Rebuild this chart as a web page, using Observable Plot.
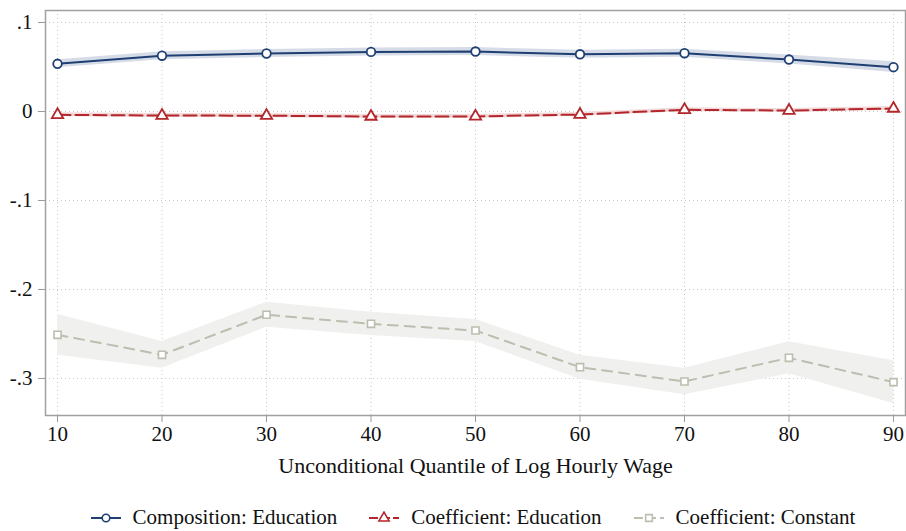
<!DOCTYPE html>
<html>
<head>
<meta charset="utf-8">
<script src="https://cdn.jsdelivr.net/npm/d3@7"></script>
<script src="https://cdn.jsdelivr.net/npm/@observablehq/plot@0.6"></script>
<style>
  body { margin: 0; background: #fff; font-family: "Times New Roman", "Liberation Serif", Tinos, "DejaVu Serif", serif; }
  #legend { display: flex; justify-content: center; gap: 32px; font-size: 21px; color: #111; margin-top: 5px; padding-left: 40px; font-family: "Times New Roman", "Liberation Serif", Tinos, "DejaVu Serif", serif; }
  #legend .item { display: flex; align-items: center; gap: 12px; }
  svg text { font-family: "Times New Roman", "Liberation Serif", Tinos, "DejaVu Serif", serif; }
</style>
</head>
<body>
<div id="chart"></div>
<div id="legend"></div>
<script>
const quantiles = [10, 20, 30, 40, 50, 60, 70, 80, 90];

const compEdu   = [0.0536, 0.0627, 0.0652, 0.0670, 0.0674, 0.0643, 0.0655, 0.0584, 0.0498];
const compEduLo = [0.0491, 0.0582, 0.0607, 0.0625, 0.0629, 0.0598, 0.0610, 0.0534, 0.0438];
const compEduHi = [0.0581, 0.0672, 0.0697, 0.0715, 0.0719, 0.0688, 0.0700, 0.0634, 0.0558];

const coefEdu   = [-0.0037, -0.0045, -0.0047, -0.0056, -0.0055, -0.0034, 0.0019, 0.0011, 0.0034];
const coefEduLo = [-0.0059, -0.0067, -0.0069, -0.0078, -0.0077, -0.0056, -0.0003, -0.0011, 0.0012];
const coefEduHi = [-0.0015, -0.0023, -0.0025, -0.0034, -0.0033, -0.0012, 0.0041, 0.0033, 0.0056];

const coefConst   = [-0.2509, -0.2734, -0.2284, -0.2386, -0.2461, -0.2873, -0.3034, -0.2768, -0.3041];
const coefConstLo = [-0.2739, -0.2884, -0.2424, -0.2516, -0.2585, -0.3008, -0.3184, -0.2948, -0.3281];
const coefConstHi = [-0.2279, -0.2584, -0.2144, -0.2256, -0.2337, -0.2738, -0.2884, -0.2588, -0.2801];

const yTicks = [-0.3, -0.2, -0.1, 0, 0.1];
const xTicks = [10, 20, 30, 40, 50, 60, 70, 80, 90];
const seriesNames = ["Composition: Education", "Coefficient: Education", "Coefficient: Constant"];

const navy = "#1f3f73", navyBand = "#d6dce7";
const red = "#b3262b", redBand = "#f3d9d9";
const gray = "#bdbdb0", grayBand = "#f0f0ee";

const rows = (v, lo, hi) => quantiles.map((q, i) => ({q, v: v[i], lo: lo[i], hi: hi[i]}));
const A = rows(compEdu, compEduLo, compEduHi);
const B = rows(coefEdu, coefEduLo, coefEduHi);
const C = rows(coefConst, coefConstLo, coefConstHi);

const fmtY = d => d === 0 ? "0" : (d < 0 ? "-" : "") + String(Math.abs(d)).replace(/^0/, "");
const serif = "'Times New Roman', 'Liberation Serif', Tinos, 'DejaVu Serif', serif";

const chart = Plot.plot({
  width: 906,
  height: 500,
  marginLeft: 45,
  marginRight: 1,
  marginTop: 10,
  marginBottom: 85,
  style: {fontFamily: serif, fontSize: "21px", color: "#111", background: "#fff"},
  x: {domain: [8.85, 91.15], ticks: xTicks, tickSize: 7, tickPadding: 4, label: "Unconditional Quantile of Log Hourly Wage", labelAnchor: "center", labelOffset: 57, labelArrow: "none"},
  y: {domain: [-0.3416, 0.1135], ticks: yTicks, tickSize: 7, tickPadding: 6, tickFormat: fmtY, label: null},
  marks: [
    Plot.gridX(xTicks, {stroke: "#c8c8c8", strokeOpacity: 1, strokeDasharray: "1,3"}),
    Plot.gridY(yTicks, {stroke: "#c8c8c8", strokeOpacity: 1, strokeDasharray: "1,3"}),
    Plot.areaY(C, {x: "q", y1: "lo", y2: "hi", fill: grayBand}),
    Plot.areaY(B, {x: "q", y1: "lo", y2: "hi", fill: redBand}),
    Plot.areaY(A, {x: "q", y1: "lo", y2: "hi", fill: navyBand}),
    Plot.lineY(C, {x: "q", y: "v", stroke: gray, strokeWidth: 2, strokeDasharray: "10,7"}),
    Plot.lineY(B, {x: "q", y: "v", stroke: red, strokeWidth: 2, strokeDasharray: "13,5"}),
    Plot.lineY(A, {x: "q", y: "v", stroke: navy, strokeWidth: 2}),
    Plot.dot(C, {x: "q", y: "v", symbol: "square", r: 4, stroke: gray, strokeWidth: 1.6, fill: "#fff"}),
    Plot.dot(B, {x: "q", y: "v", symbol: "triangle", r: 4.2, stroke: red, strokeWidth: 1.8, fill: "#fff"}),
    Plot.dot(A, {x: "q", y: "v", symbol: "circle", r: 4.3, stroke: navy, strokeWidth: 1.8, fill: "#fff"}),
    Plot.frame({stroke: "#a0a0a0", strokeWidth: 1.5})
  ]
});
chart.querySelectorAll("g[aria-label='x-axis tick'] , g[aria-label='y-axis tick']").forEach(g => g.setAttribute("stroke", "#999"));
chart.querySelectorAll("g[aria-label='x-axis label'] text").forEach(t => t.style.fontSize = "22px");
document.getElementById("chart").appendChild(chart);

// legend
const legendSpecs = [
  {name: seriesNames[0], color: navy, dash: null, sym: "circle"},
  {name: seriesNames[1], color: red, dash: "9,3", sym: "triangle"},
  {name: seriesNames[2], color: gray, dash: "9,4", sym: "square"}
];
const leg = d3.select("#legend");
for (const s of legendSpecs) {
  const it = leg.append("div").attr("class", "item");
  const sv = it.append("svg").attr("width", 30).attr("height", 14);
  sv.append("line").attr("x1", 0).attr("x2", 30).attr("y1", 7).attr("y2", 7)
    .attr("stroke", s.color).attr("stroke-width", 2).attr("stroke-dasharray", s.dash);
  const sym = {circle: d3.symbolCircle, triangle: d3.symbolTriangle, square: d3.symbolSquare}[s.sym];
  sv.append("path").attr("transform", "translate(15,7)")
    .attr("d", d3.symbol(sym, 45)()).attr("fill", "#fff").attr("stroke", s.color).attr("stroke-width", 1.6);
  it.append("span").text(s.name);
}
</script>
</body>
</html>
